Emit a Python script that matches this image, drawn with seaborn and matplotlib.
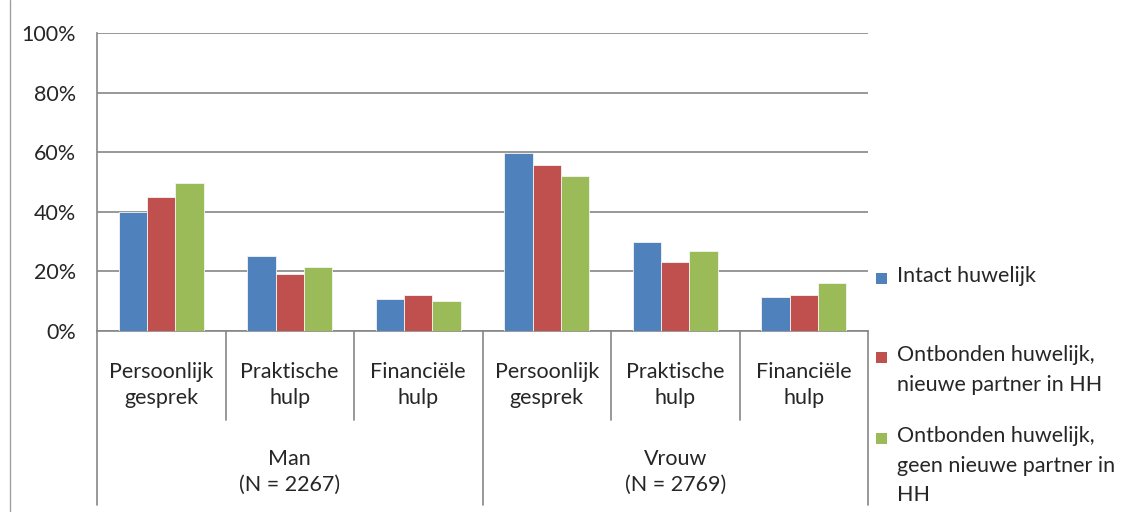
import numpy as np
import pandas as pd
import matplotlib.pyplot as plt
import seaborn as sns
from matplotlib.patches import Rectangle
from matplotlib.lines import Line2D

groepen = ["Man\n(N = 2267)", "Vrouw\n(N = 2769)"]
hulpvormen = ["Persoonlijk\ngesprek", "Praktische\nhulp", "Financiële\nhulp"]
reeksen = ["Intact huwelijk",
           "Ontbonden huwelijk,\nnieuwe partner in HH",
           "Ontbonden huwelijk,\ngeen nieuwe partner in\nHH"]
intact = [40.1, 25.2, 10.8, 59.7, 30.0, 11.4]
nieuwe_partner = [44.8, 19.2, 12.1, 55.6, 23.3, 12.1]
geen_partner = [49.6, 21.5, 10.2, 51.9, 26.9, 16.2]
kleuren = ["#4F81BD", "#C0504D", "#9BBB59"]

sns.set_style("white")
plt.rcParams["font.family"] = ["Lato", "DejaVu Sans"]

cats = [f"{g}|{h}" for g in groepen for h in hulpvormen]
rijen = []
for reeks, waarden in zip(reeksen, [intact, nieuwe_partner, geen_partner]):
    for c, w in zip(cats, waarden):
        rijen.append({"cat": c, "reeks": reeks, "waarde": w})
df = pd.DataFrame(rijen)

W, H = 1124, 512
fig = plt.figure(figsize=(W / 100, H / 100), dpi=100)
x0, x1, y0, y1 = 97, 868, 331, 33
ax = fig.add_axes([x0 / W, 1 - y0 / H, (x1 - x0) / W, (y0 - y1) / H])

sns.barplot(data=df, x="cat", y="waarde", hue="reeks", order=cats, hue_order=reeksen,
            palette=kleuren, saturation=1, width=0.66, edgecolor="#f4f4f4", linewidth=0.6,
            legend=False, ax=ax, zorder=3)

grijs = "#868686"
fs = 15.5
ax.set_xlim(-0.5, len(cats) - 0.5)
ax.set_ylim(0, 100)
ax.set_yticks(np.arange(0, 101, 20))
ax.set_yticklabels([f"{v}%" for v in range(0, 101, 20)], fontsize=fs)
ax.set_xticks([])
ax.set_xlabel("")
ax.set_ylabel("")
ax.grid(axis="y", color=grijs, linewidth=1.2, zorder=0)
ax.set_axisbelow(True)
ax.tick_params(axis="y", direction="out", length=6, width=1.2, color=grijs, pad=9)
for s in ["top", "right"]:
    ax.spines[s].set_visible(False)
for s in ["left", "bottom"]:
    ax.spines[s].set_color(grijs)
    ax.spines[s].set_linewidth(1.2)

tr = ax.get_xaxis_transform()
ph = y0 - y1
# category separators below the axis
for b in np.arange(-0.5, len(cats), 1.0):
    outer = b in (-0.5, 2.5, 5.5)
    ylow = (y0 - 505) / ph if outer else (y0 - 420) / ph
    ax.plot([b, b], [0, ylow], transform=tr, color=grijs, lw=1.2, clip_on=False)

for i, c in enumerate(cats):
    ax.text(i, (y0 - 385) / ph, c.split("|")[1], transform=tr, ha="center", va="center",
            fontsize=fs, linespacing=1.38)
for j, g in enumerate(groepen):
    ax.text(j * 3 + 1, (y0 - 472) / ph, g, transform=tr, ha="center", va="center",
            fontsize=fs, linespacing=1.4)

# legend
eerste_regel = [278, 357, 438]
for kleur, reeks, yc in zip(kleuren, reeksen, eerste_regel):
    fig.add_artist(Rectangle(((876) / W, 1 - (yc + 6) / H), 11 / W, 11 / H,
                             transform=fig.transFigure, facecolor=kleur, edgecolor="none"))
    fig.text(897 / W, 1 - (yc - 12) / H, reeks, ha="left", va="top", fontsize=fs,
             linespacing=1.6)

fig.add_artist(Line2D([10 / W, 10 / W], [0, 1], transform=fig.transFigure, color="#a0a0a0", lw=1))

fig.savefig("out.png", dpi=100)
